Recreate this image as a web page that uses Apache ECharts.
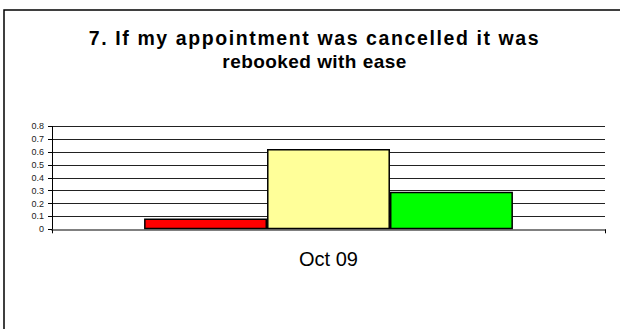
<!DOCTYPE html>
<html>
<head>
<meta charset="utf-8">
<script src="https://cdn.jsdelivr.net/npm/echarts@6/dist/echarts.min.js"></script>
<style>
  html, body { margin: 0; padding: 0; background: #fff; }
  #chart { width: 620px; height: 329px; }
  /* looser tracking for the bold heading lines */
  #chart text[style*="19.5px"], #chart text[font-size="19.5px"], #chart text[font-size="19.5"] { letter-spacing: 1.6px; }
  #chart text[style*="19px"], #chart text[font-size="19px"], #chart text[font-size="19"] { letter-spacing: 0.45px; }
</style>
</head>
<body>
<div id="chart"></div>
<script>
// Survey question 7 – share of responses per rating band
const titleLines = ['7. If my appointment was cancelled it was', 'rebooked with ease'];
const categories = ['Oct 09'];
const seriesNames = ['Poor', 'Average', 'Good'];
const seriesValues = [[0.083], [0.625], [0.292]];
const seriesColors = ['#FF0000', '#FFFF99', '#00FF00'];
const yTicks = [0, 0.1, 0.2, 0.3, 0.4, 0.5, 0.6, 0.7, 0.8];

const FONT = '"Liberation Sans", Arial, sans-serif';
const chart = echarts.init(document.getElementById('chart'), null, { renderer: 'svg' });

chart.setOption({
  backgroundColor: '#ffffff',
  animation: false,
  graphic: [
    // chart area frame (top and left edges visible)
    { type: 'rect', shape: { x: 4, y: 10, width: 700, height: 400 },
      style: { fill: 'none', stroke: '#000', lineWidth: 1.5 }, silent: true },
    { type: 'text', x: 314.5, y: 38, style: { text: titleLines[0], fontFamily: FONT, fontSize: 19.5,
      fontWeight: 'bold', fill: '#000', textAlign: 'center', textVerticalAlign: 'middle' } },
    { type: 'text', x: 314.5, y: 61, style: { text: titleLines[1], fontFamily: FONT, fontSize: 19,
      fontWeight: 'bold', fill: '#000', textAlign: 'center', textVerticalAlign: 'middle' } }
  ],
  grid: { left: 52, right: 15, top: 126.4, bottom: 99.7, containLabel: false },
  xAxis: {
    type: 'category',
    data: categories,
    axisLine: { lineStyle: { color: '#808080', width: 2 } },
    axisTick: { show: true, inside: false, length: 4, lineStyle: { color: '#000', width: 1 } },
    axisLabel: { fontFamily: FONT, fontSize: 20, color: '#000', margin: 20 },
    splitLine: { show: false }
  },
  yAxis: {
    type: 'value',
    min: 0,
    max: yTicks[yTicks.length - 1],
    interval: 0.1,
    axisLine: { show: true, lineStyle: { color: '#000', width: 1 } },
    axisTick: { show: true, length: 4, lineStyle: { color: '#000' } },
    axisLabel: { fontFamily: FONT, fontSize: 9, color: '#222', margin: 8,
      formatter: v => String(Math.round(v * 10) / 10) },
    splitLine: { show: true, lineStyle: { color: '#222', width: 1 } }
  },
  series: seriesNames.map((name, i) => ({
    name,
    type: 'bar',
    data: seriesValues[i],
    barGap: '0%',
    barCategoryGap: '33.3%',
    itemStyle: { color: seriesColors[i], borderColor: '#000', borderWidth: 1.5 }
  }))
});
</script>
</body>
</html>
